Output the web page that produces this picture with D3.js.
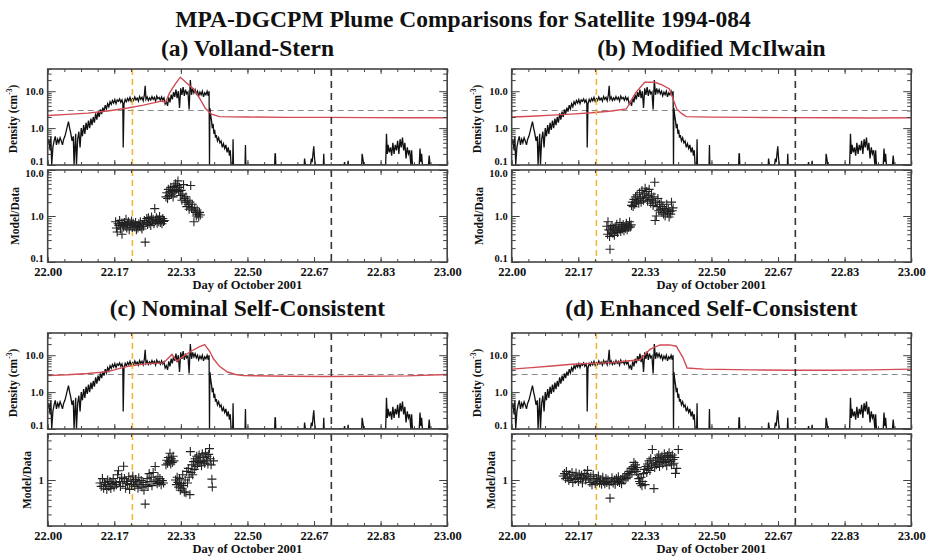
<!DOCTYPE html>
<html>
<head>
<meta charset="utf-8">
<script src="https://cdn.jsdelivr.net/npm/d3@7"></script>
<style>
body{margin:0;background:#fff;}
text{font-family:"Liberation Serif","Times New Roman",serif;font-weight:bold;fill:#111;}
</style>
</head>
<body>
<svg id="chart" width="930" height="560"></svg>
<script>
var mainTitle="MPA-DGCPM Plume Comparisons for Satellite 1994-084";
var panelTitles=["(a) Volland-Stern","(b) Modified McIlwain","(c) Nominal Self-Consistent","(d) Enhanced Self-Consistent"];
var xTickLabels=["22.00","22.17","22.33","22.50","22.67","22.83","23.00"];
var densityTicks=[0.1,1,10];
var densityLabels=["0.1","1.0","10.0"];
var plumeThreshold=3;
var markerDays=[22.212,22.71]; // yellow, black dashed

// observed density (same satellite data in every panel) [day, cm^-3]
var observed=[[22.000,0.35],[22.003,0.5],[22.006,0.25],[22.008,0.6],[22.010,0.1],[22.013,0.3],[22.016,0.45],[22.019,0.6],
[22.022,0.35],[22.025,0.5],[22.028,0.4],[22.031,0.55],[22.034,0.45],[22.037,0.35],[22.040,0.5],[22.043,0.6],[22.046,0.8],
[22.049,1.1],[22.052,1.5],[22.055,1.0],[22.058,0.7],[22.061,0.45],[22.064,0.6],[22.066,0.1],[22.068,0.3],[22.070,0.7],
[22.072,0.1],[22.075,0.5],[22.078,0.8],[22.081,0.3],[22.084,1.0],[22.087,0.6],[22.090,1.2],[22.093,0.7],[22.096,1.4],
[22.099,0.9],[22.102,1.6],[22.105,1.0],[22.108,1.8],[22.111,1.2],[22.114,2.0],[22.117,1.4],[22.120,2.5],[22.123,1.7],
[22.126,2.8],[22.129,2.0],[22.132,3.2],[22.135,2.4],[22.138,3.6],[22.141,2.8],[22.144,4.2],[22.147,3.3],[22.150,4.6],
[22.153,3.8],[22.156,5.2],[22.159,4.4],[22.162,5.6],[22.165,4.8],[22.168,5.9],[22.171,4.6],[22.174,5.8],[22.177,5.3],
[22.180,6.2],[22.183,5.0],[22.186,5.8],[22.188,4.8],[22.189,0.3],[22.191,4.5],[22.194,6.0],[22.197,5.2],[22.200,6.4],
[22.203,5.5],[22.206,6.8],[22.209,5.3],[22.212,6.2],[22.215,5.6],[22.218,7.0],[22.221,5.8],[22.224,6.5],[22.227,5.4],
[22.230,7.2],[22.233,6.0],[22.236,6.8],[22.239,5.5],[22.242,8.0],[22.244,14],[22.246,6.0],[22.249,7.0],[22.252,5.6],
[22.255,6.6],[22.258,5.8],[22.261,7.2],[22.264,6.0],[22.267,6.8],[22.270,5.4],[22.273,7.4],[22.276,6.2],[22.279,6.8],
[22.282,5.7],[22.285,7.0],[22.288,5.8],[22.291,6.6],[22.294,4.5],[22.297,5.2],[22.300,4.0],[22.303,6.8],[22.306,5.0],
[22.309,8.0],[22.312,6.0],[22.315,9.5],[22.318,7.0],[22.321,11],[22.324,6.5],[22.327,10],[22.330,3.5],[22.333,12],
[22.336,8.0],[22.339,13],[22.342,7.5],[22.345,11],[22.348,8.5],[22.351,9.5],[22.354,3.2],[22.357,20],[22.360,8.0],
[22.363,12],[22.366,9.0],[22.369,11],[22.372,8.5],[22.375,10],[22.378,7.5],[22.381,9.5],[22.384,8.0],[22.387,10],
[22.390,7.0],[22.393,9.0],[22.396,8.0],[22.399,10],[22.402,7.5],[22.404,10],[22.405,0.1],[22.406,3.5],[22.408,2.2],
[22.410,1.6],[22.412,1.0],[22.414,1.3],[22.416,0.7],[22.418,0.9],[22.420,0.55],[22.422,0.65],[22.425,0.45],[22.428,0.55],
[22.431,0.4],[22.434,0.45],[22.437,0.3],[22.440,0.38],[22.443,0.28],[22.446,0.35],[22.449,0.22],[22.452,0.3],[22.455,0.18],
[22.457,0.25],[22.459,0.1],[22.463,0.1],[22.464,0.5],[22.465,0.1],[22.494,0.1],[22.495,0.35],[22.496,0.1],[22.568,0.1],
[22.569,0.2],[22.570,0.2],[22.571,0.1],[22.642,0.1],[22.643,0.15],[22.645,0.1],[22.658,0.1],[22.660,0.15],[22.662,0.12],
[22.664,0.2],[22.666,0.32],[22.668,0.15],[22.670,0.1],[22.690,0.1],[22.691,0.2],[22.692,0.1],[22.742,0.1],[22.743,0.12],
[22.744,0.1],[22.751,0.1],[22.752,0.13],[22.753,0.1],[22.786,0.1],[22.787,0.2],[22.789,0.15],[22.791,0.1],[22.846,0.1],
[22.848,0.7],[22.850,0.2],[22.852,0.35],[22.855,0.22],[22.858,0.3],[22.861,0.18],[22.864,0.4],[22.867,0.2],[22.870,0.35],
[22.873,0.25],[22.876,0.45],[22.879,0.2],[22.882,0.5],[22.885,0.3],[22.888,0.55],[22.891,0.25],[22.894,0.4],[22.897,0.15],
[22.900,0.3],[22.903,0.2],[22.906,0.25],[22.909,0.1],[22.911,0.25],[22.913,0.1],[22.930,0.1],[22.932,0.28],[22.934,0.12],
[22.936,0.2],[22.938,0.1],[22.953,0.1],[22.955,0.18],[22.957,0.1],[23.000,0.1]];

// model densities
var modelA=[[22.00,2.2],[22.05,2.35],[22.10,2.55],[22.15,2.9],[22.20,3.5],[22.24,4.2],[22.27,5.0],[22.285,5.4],[22.295,5.0],
[22.305,9],[22.32,16],[22.332,24],[22.35,16],[22.365,11.5],[22.38,6.5],[22.395,3.4],[22.41,2.4],[22.43,2.05],[22.5,2.0],
[22.6,1.95],[22.7,1.95],[22.8,1.92],[22.9,1.9],[23.0,1.9]];
var modelB=[[22.00,2.0],[22.05,2.1],[22.10,2.25],[22.15,2.4],[22.20,2.6],[22.25,2.9],[22.287,3.3],[22.31,9],[22.333,17.5],
[22.358,17.5],[22.375,15],[22.395,11.5],[22.413,3.3],[22.425,2.5],[22.437,2.05],[22.5,1.98],[22.6,1.95],[22.7,1.92],
[22.8,1.9],[22.9,1.88],[23.0,1.9]];
var modelC=[[22.00,2.8],[22.05,2.95],[22.10,3.2],[22.15,3.6],[22.20,5.0],[22.25,5.9],[22.29,6.2],[22.311,10.5],[22.323,6.9],
[22.34,9.5],[22.36,13],[22.38,17],[22.393,19.5],[22.405,13],[22.415,8],[22.43,5],[22.45,3.5],[22.47,3.0],[22.49,2.8],
[22.6,2.7],[22.7,2.65],[22.8,2.7],[22.9,2.75],[23.0,3.0]];
var modelD=[[22.00,4.2],[22.05,4.6],[22.10,5.1],[22.15,5.7],[22.20,6.0],[22.25,6.3],[22.296,7.1],[22.321,7.5],[22.346,14.5],
[22.371,19],[22.395,19],[22.412,17.5],[22.429,8.5],[22.439,4.5],[22.48,4.2],[22.6,4.0],[22.7,3.9],[22.8,3.9],[22.9,4.0],[23.0,4.2]];

// model/data ratios
var ratioA=[[22.170,0.75],[22.172,0.55],[22.174,0.45],[22.176,0.68],[22.178,0.62],[22.180,0.80],[22.182,0.52],[22.184,0.70],
[22.186,0.40],[22.188,0.65],[22.190,0.58],[22.192,0.72],[22.194,0.62],[22.196,0.85],[22.198,0.55],[22.200,0.66],[22.202,0.75],
[22.204,0.50],[22.206,0.68],[22.208,0.62],[22.210,0.78],[22.212,0.56],[22.214,0.70],[22.216,0.64],[22.218,0.58],[22.220,0.72],
[22.222,0.50],[22.224,0.62],[22.226,0.55],[22.228,0.68],[22.230,0.60],[22.232,0.75],[22.234,0.58],[22.236,0.52],[22.238,0.66],
[22.240,0.60],[22.242,0.80],[22.244,0.27],[22.246,0.72],[22.248,0.88],[22.250,0.65],[22.252,0.92],[22.254,0.70],[22.256,0.82],
[22.258,0.62],[22.260,0.95],[22.262,0.75],[22.264,0.85],[22.266,0.68],[22.268,1.45],[22.270,0.80],[22.272,0.92],[22.274,0.70],
[22.276,0.85],[22.278,0.75],[22.280,0.98],[22.282,0.72],[22.284,0.82],[22.286,0.68],[22.288,0.88],[22.290,0.76],[22.292,0.80],
[22.296,2.6],[22.298,3.2],[22.300,2.4],[22.302,3.8],[22.304,2.8],[22.306,3.4],[22.308,4.2],[22.310,3.0],[22.312,3.6],
[22.314,2.6],[22.316,4.4],[22.318,3.2],[22.320,5.0],[22.322,3.8],[22.324,4.6],[22.326,5.8],[22.328,3.4],[22.330,4.2],
[22.332,2.8],[22.334,3.6],[22.336,2.2],[22.338,3.0],[22.340,4.8],[22.342,2.4],[22.344,2.0],[22.346,2.6],[22.348,1.6],
[22.350,2.2],[22.352,1.8],[22.354,1.4],[22.356,2.0],[22.358,4.6],[22.360,1.5],[22.362,1.8],[22.364,1.3],[22.366,0.75],
[22.368,1.5],[22.370,1.2],[22.372,1.0],[22.374,1.35],[22.376,1.1],[22.378,0.95],[22.380,1.2],[22.382,1.05]];
var ratioB=[[22.238,0.60],[22.240,0.40],[22.241,0.75],[22.243,0.50],[22.245,0.36],[22.246,0.19],[22.247,0.55],[22.249,0.45],
[22.251,0.62],[22.253,0.42],[22.255,0.52],[22.257,0.38],[22.259,0.58],[22.261,0.48],[22.263,0.66],[22.265,0.44],[22.267,0.55],
[22.269,0.50],[22.271,0.72],[22.273,0.46],[22.275,0.60],[22.277,0.52],[22.279,0.65],[22.281,0.48],[22.283,0.58],[22.285,0.54],
[22.287,0.70],[22.289,0.50],[22.291,0.62],[22.293,0.56],[22.295,0.75],[22.297,0.58],[22.299,0.64],
[22.300,1.7],[22.302,2.0],[22.304,1.6],[22.306,2.3],[22.308,1.8],[22.310,2.6],[22.312,2.0],[22.314,2.9],[22.316,2.2],
[22.318,1.9],[22.320,3.2],[22.322,2.4],[22.324,2.0],[22.326,3.6],[22.328,2.6],[22.330,2.2],[22.332,3.0],[22.334,4.0],
[22.336,2.5],[22.338,3.4],[22.340,2.1],[22.342,2.8],[22.344,3.8],[22.346,2.3],[22.348,1.9],[22.350,3.0],[22.352,2.2],
[22.354,1.7],[22.356,2.6],[22.358,5.4],[22.359,0.80],[22.360,2.0],[22.362,1.0],[22.364,1.6],[22.366,2.4],[22.368,1.3],
[22.370,1.8],[22.372,1.4],[22.374,2.0],[22.376,1.2],[22.378,1.6],[22.380,1.1],[22.382,1.45],[22.384,1.0],[22.386,1.3],
[22.388,1.8],[22.390,1.15],[22.392,1.4],[22.394,0.95],[22.396,1.25],[22.398,1.1],[22.400,2.0],[22.402,1.3],[22.404,1.5]];
var ratioC=[[22.131,0.90],[22.134,0.80],[22.137,1.05],[22.140,0.75],[22.142,0.92],[22.145,0.85],[22.148,0.72],[22.150,1.00],
[22.153,0.80],[22.156,0.95],[22.158,0.74],[22.161,0.88],[22.164,1.05],[22.166,0.78],[22.169,0.92],[22.172,0.85],[22.175,1.20],
[22.177,1.38],[22.180,0.95],[22.182,0.80],[22.185,1.10],[22.188,0.90],[22.190,1.62],[22.192,1.05],[22.195,0.75],[22.197,0.95],
[22.200,0.88],[22.203,1.12],[22.205,0.72],[22.208,1.00],[22.210,0.85],[22.213,1.15],[22.215,0.95],[22.218,0.80],[22.220,1.02],
[22.223,0.90],[22.226,0.75],[22.228,1.08],[22.231,0.85],[22.234,0.98],[22.236,0.78],[22.239,0.92],[22.241,0.70],[22.244,0.43],
[22.246,0.85],[22.249,1.05],[22.251,0.80],[22.254,1.25],[22.256,0.95],[22.259,1.10],[22.261,0.82],[22.264,1.30],[22.266,0.95],
[22.269,1.60],[22.271,1.00],[22.274,0.88],[22.276,1.12],[22.279,0.92],[22.281,1.05],[22.284,0.85],[22.287,0.98],[22.290,0.90],
[22.296,1.70],[22.298,2.00],[22.300,1.80],[22.302,2.20],[22.304,1.90],[22.306,2.55],[22.308,1.75],[22.310,2.10],[22.312,1.85],
[22.314,2.30],[22.316,1.95],[22.320,1.00],[22.322,0.85],[22.324,1.10],[22.326,0.92],[22.328,0.78],[22.330,1.05],[22.332,0.70],
[22.334,0.88],[22.336,0.75],[22.338,1.20],[22.340,0.82],[22.342,0.66],[22.344,1.00],[22.346,0.64],[22.348,1.35],[22.350,0.90],
[22.352,1.50],[22.354,1.10],[22.356,0.60],[22.357,2.70],[22.359,1.30],[22.361,1.70],[22.363,1.20],[22.365,1.90],[22.367,1.45],
[22.369,2.10],[22.371,1.60],[22.373,2.30],[22.375,1.75],[22.377,2.00],[22.379,2.40],[22.381,1.85],[22.383,2.20],[22.385,1.65],
[22.387,2.50],[22.389,1.90],[22.391,2.20],[22.393,1.80],[22.395,2.60],[22.397,2.00],[22.399,2.30],[22.401,1.75],[22.403,2.45],
[22.405,3.00],[22.407,2.10],[22.409,1.70],[22.411,1.03],[22.412,0.78],[22.415,1.95]];
var ratioD=[[22.129,1.15],[22.132,1.25],[22.135,1.05],[22.137,1.35],[22.140,1.10],[22.143,0.98],[22.145,1.20],[22.148,1.05],
[22.151,1.30],[22.153,0.92],[22.156,1.15],[22.159,1.02],[22.161,1.28],[22.164,1.10],[22.167,0.95],[22.169,1.22],[22.172,1.05],
[22.175,1.18],[22.177,0.90],[22.180,1.10],[22.183,1.25],[22.185,1.00],[22.188,1.15],[22.190,1.40],[22.193,1.05],[22.196,0.92],
[22.198,1.12],[22.201,0.85],[22.204,1.20],[22.206,1.00],[22.209,0.88],[22.212,1.05],[22.214,0.95],[22.217,1.15],[22.220,0.90],
[22.222,1.00],[22.225,0.86],[22.228,1.10],[22.230,0.95],[22.233,0.88],[22.236,1.05],[22.238,0.92],[22.241,1.00],[22.244,0.85],
[22.246,0.53],[22.249,0.95],[22.251,1.08],[22.254,0.90],[22.257,1.00],[22.259,0.86],[22.262,1.05],[22.265,0.95],[22.267,1.12],
[22.270,0.92],[22.273,1.02],[22.275,0.88],[22.278,1.08],[22.281,1.00],[22.283,1.15],[22.286,1.05],[22.289,1.25],[22.291,1.10],
[22.294,1.35],[22.296,1.20],[22.299,1.50],[22.301,1.30],[22.304,1.60],[22.306,1.85],[22.308,1.45],[22.310,1.70],[22.312,1.35],
[22.314,1.55],[22.316,1.20],[22.318,1.05],[22.320,0.95],[22.322,0.88],[22.324,1.10],[22.326,0.82],[22.328,0.95],[22.330,1.25],
[22.332,1.45],[22.334,0.85],[22.336,1.60],[22.338,1.30],[22.340,1.75],[22.342,1.50],[22.344,1.95],[22.346,1.40],[22.348,2.10],
[22.350,1.65],[22.352,2.90],[22.354,1.80],[22.356,0.74],[22.358,1.55],[22.360,2.00],[22.362,1.70],[22.364,2.20],[22.366,1.85],
[22.368,2.40],[22.370,1.60],[22.372,2.10],[22.374,1.90],[22.376,2.30],[22.378,1.75],[22.380,2.05],[22.382,2.50],[22.384,1.85],
[22.386,2.20],[22.388,1.65],[22.390,2.35],[22.392,2.00],[22.394,2.60],[22.396,1.90],[22.398,2.25],[22.400,1.70],[22.402,2.40],
[22.404,2.05],[22.406,1.80],[22.408,2.20],[22.410,1.26],[22.413,1.50],[22.417,2.90]];

var W=399.5,H1=96,H2=92,GAP=5;
var panels=[
  {title:panelTitles[0],model:modelA,ratio:ratioA,left:47.7,top:69,titleY:56,rDomain:[0.1,10],rTicks:[0.1,1,10],rLabels:["0.1","1.0","10.0"],rLabelX:-33},
  {title:panelTitles[1],model:modelB,ratio:ratioB,left:511.7,top:69,titleY:56,rDomain:[0.1,10],rTicks:[0.1,1,10],rLabels:["0.1","1.0","10.0"],rLabelX:-33},
  {title:panelTitles[2],model:modelC,ratio:ratioC,left:47.7,top:333,titleY:316,rDomain:[0.2,5],rTicks:[1],rLabels:["1"],rLabelX:-21},
  {title:panelTitles[3],model:modelD,ratio:ratioD,left:511.7,top:333,titleY:316,rDomain:[0.2,5],rTicks:[1],rLabels:["1"],rLabelX:-21}
];

var svg=d3.select("#chart");
svg.append("rect").attr("width",930).attr("height",560).attr("fill","#fff");
svg.append("text").attr("x",463).attr("y",27).attr("text-anchor","middle")
   .style("font-size","23.5px").text(mainTitle);

var majorX=d3.range(0,7).map(function(i){return 22+i/6;});
var minorX=d3.range(0,25).map(function(i){return 22+i/24;});

function isDecade(v){
  var l=Math.log10(v);
  return Math.abs(l-Math.round(l))<1e-6;
}

// box with inward ticks on all four sides
function frame(g,x,y,h,yTicks,yLabels,xLabels){
  var minorY=y.ticks().filter(function(v){return yTicks.indexOf(v)<0 && !(yTicks.length>1 && isDecade(v));});
  var sides=[
    {ax:d3.axisBottom,t:"translate(0,"+h+")",s:x},
    {ax:d3.axisTop,t:"translate(0,0)",s:x},
    {ax:d3.axisLeft,t:"translate(0,0)",s:y},
    {ax:d3.axisRight,t:"translate("+W+",0)",s:y}
  ];
  sides.forEach(function(sd,k){
    var isX=k<2;
    var maj=sd.ax(sd.s).tickValues(isX?majorX:yTicks).tickSize(isX?-5:-8).tickFormat("");
    var mnr=sd.ax(sd.s).tickValues(isX?minorX:minorY).tickSize(isX?-3:-4).tickFormat("");
    if(k==0 && xLabels) maj.tickFormat(function(d,i){return xTickLabels[i];}).tickPadding(5);
    if(k==2) maj.tickFormat(function(d,i){return yLabels[i];}).tickPadding(4);
    var a=g.append("g").attr("transform",sd.t).call(maj);
    g.append("g").attr("transform",sd.t).call(mnr);
    a.selectAll("text").style("font-size",isX?"12.5px":"10.5px").attr("fill","#111");
    if(k==2){
      // nudge edge labels inward so stacked panels do not collide
      a.selectAll(".tick text").attr("y",function(d){
        if(Math.abs(y(d)-h)<1) return -4;
        if(Math.abs(y(d))<1) return 3;
        return 0;
      });
    }
  });
  g.selectAll(".domain").remove();
  g.selectAll(".tick line").attr("stroke","#444").attr("stroke-width",1);
  g.append("rect").attr("width",W).attr("height",h)
   .attr("fill","none").attr("stroke","#444").attr("stroke-width",1.6);
}

function verticals(g,x,h){
  g.append("line").attr("x1",x(markerDays[0])).attr("x2",x(markerDays[0])).attr("y1",0).attr("y2",h)
   .attr("stroke","#f2b53a").attr("stroke-width",1.6).attr("stroke-dasharray","6,4");
  g.append("line").attr("x1",x(markerDays[1])).attr("x2",x(markerDays[1])).attr("y1",0).attr("y2",h)
   .attr("stroke","#333").attr("stroke-width",1.6).attr("stroke-dasharray","7,5");
}

panels.forEach(function(p,pi){
  var x=d3.scaleLinear().domain([22,23]).range([0,W]);
  var yD=d3.scaleLog().domain([0.1,40]).range([H1,0]);
  var yR=d3.scaleLog().domain(p.rDomain).range([H2,0]);

  svg.append("text").attr("x",p.left+W/2).attr("y",p.titleY).attr("text-anchor","middle")
     .style("font-size","23.5px").text(p.title);

  var top=svg.append("g").attr("transform","translate("+p.left+","+p.top+")");
  var bot=svg.append("g").attr("transform","translate("+p.left+","+(p.top+H1+GAP)+")");

  var defs=svg.append("defs");
  defs.append("clipPath").attr("id","clipT"+pi).append("rect").attr("width",W).attr("height",H1);
  defs.append("clipPath").attr("id","clipB"+pi).append("rect").attr("width",W).attr("height",H2);

  // density panel
  var pt=top.append("g").attr("clip-path","url(#clipT"+pi+")");
  pt.append("line").attr("x1",0).attr("x2",W).attr("y1",yD(plumeThreshold)).attr("y2",yD(plumeThreshold))
    .attr("stroke","#8a8a8a").attr("stroke-width",1).attr("stroke-dasharray","6,4");
  var line=d3.line().x(function(d){return x(d[0]);}).y(function(d){return yD(d[1]);});
  pt.append("path").datum(observed).attr("d",line)
    .attr("fill","none").attr("stroke","#111").attr("stroke-width",1.3);
  pt.append("path").datum(p.model).attr("d",line)
    .attr("fill","none").attr("stroke","#d24b55").attr("stroke-width",1.4);
  verticals(pt,x,H1);
  frame(top,x,yD,H1,densityTicks,densityLabels,false);

  var dl=top.append("text").attr("transform","translate(-35,"+(H1/2+2)+") rotate(-90)")
    .attr("text-anchor","middle").attr("dominant-baseline","central").style("font-size","11.5px");
  dl.append("tspan").text("Density (cm");
  dl.append("tspan").attr("dy",-4).style("font-size","7.5px").text("-3");
  dl.append("tspan").attr("dy",4).text(")");

  // ratio panel
  var pb=bot.append("g").attr("clip-path","url(#clipB"+pi+")");
  verticals(pb,x,H2);
  pb.selectAll("path.plus").data(p.ratio).enter().append("path")
    .attr("class","plus")
    .attr("transform",function(d){return "translate("+x(d[0])+","+yR(d[1])+")";})
    .attr("d","M-4.5,0H4.5M0,-4.5V4.5")
    .attr("stroke","#222").attr("stroke-width",1.1).attr("fill","none");
  frame(bot,x,yR,H2,p.rTicks,p.rLabels,true);

  bot.append("text").attr("transform","translate("+p.rLabelX+","+(H2/2)+") rotate(-90)")
    .attr("text-anchor","middle").attr("dominant-baseline","central").style("font-size","11.5px")
    .text("Model/Data");
  bot.append("text").attr("x",W/2).attr("y",H2+27).attr("text-anchor","middle")
    .style("font-size","12.5px").text("Day of October 2001");
});
</script>
</body>
</html>
